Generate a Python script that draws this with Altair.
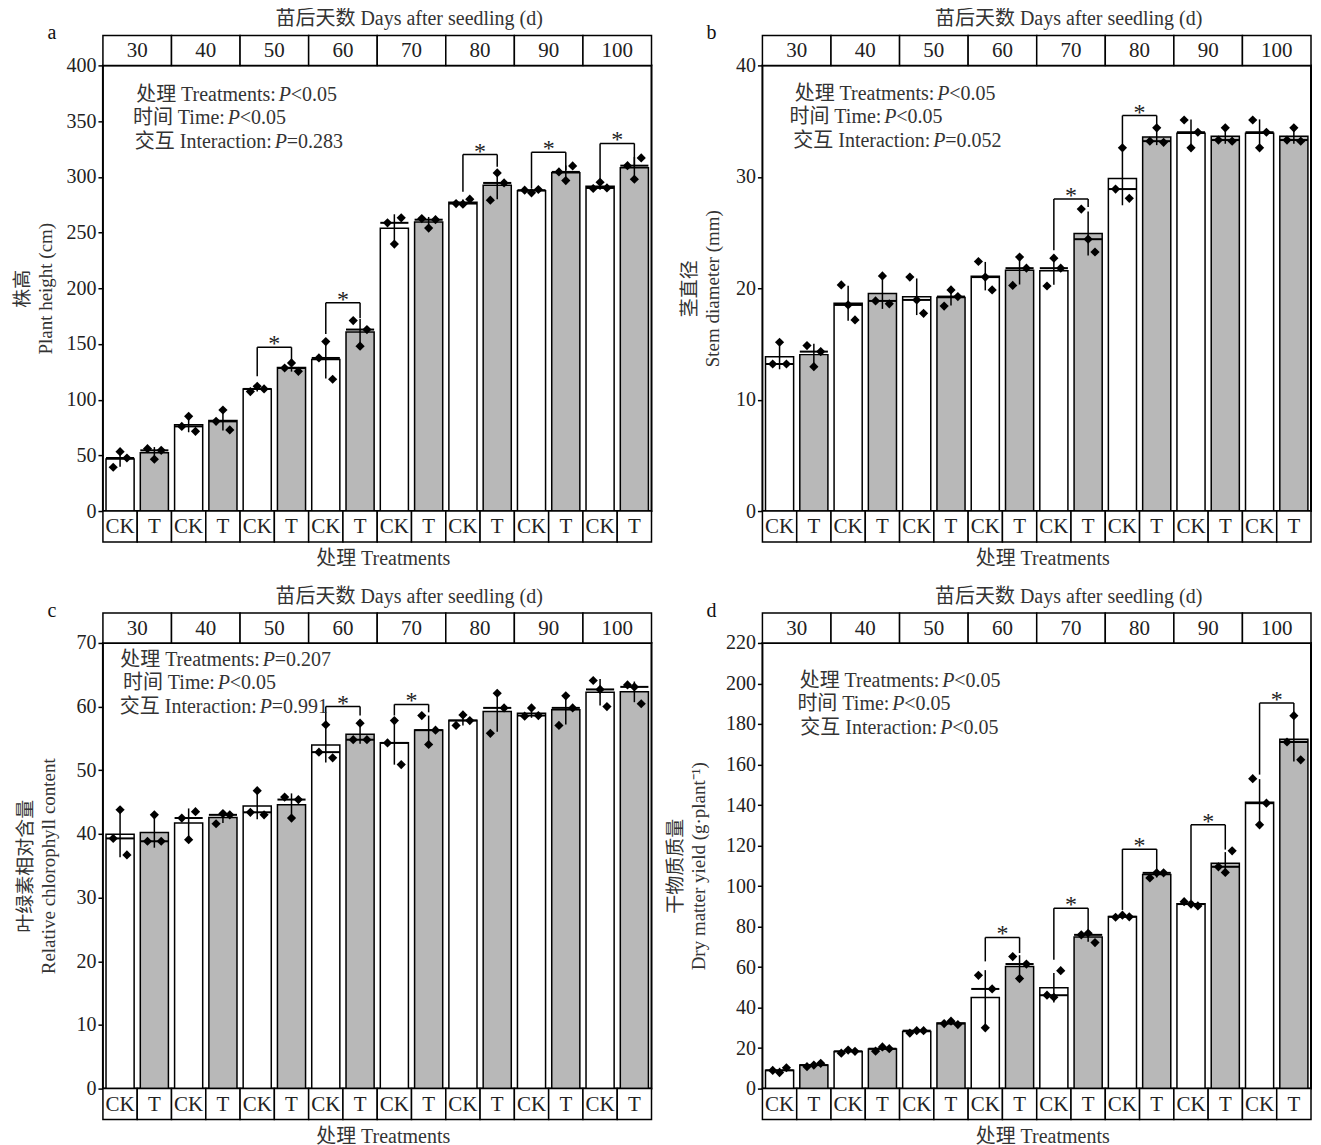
import altair as alt
import pandas as pd

FONT = "Liberation Serif, Noto Sans CJK SC"
DAYS = [30, 40, 50, 60, 70, 80, 90, 100]
TREATMENTS = ["CK", "T"]
PREFIXES = ["处理 Treatments:", "时间 Time:", "交互 Interaction:"]
TOP_TITLE = "苗后天数 Days after seedling (d)"
X_TITLE = "处理 Treatments"

# ---- panel a: plant height (cm) ----
A_CK = [[39.3, 53.3, 47.6], [76.0, 85.0, 71.6], [107.2, 112.0, 109.6], [137.4, 152.1, 118.3],
        [258.7, 239.6, 263.2], [276.0, 275.4, 279.9], [288.0, 285.6, 288.6], [289.5, 295.1, 290.0]]
A_T = [[56.0, 46.5, 54.5], [80.5, 90.7, 72.8], [128.4, 132.9, 125.4], [171.0, 148.0, 162.9],
       [262.5, 254.0, 261.5], [279.0, 303.5, 294.5], [304.4, 296.6, 309.8], [310.0, 297.8, 316.9]]
A_SIG = [50, 60, 80, 90, 100]
A_TOP = [147, 187, 320, 322, 330]
A_LEG_CK = [121, 159, 286.5, 289.5, 292.5]
A_LEG_T = [131, 173, 309, 306, 309]
A_P = ["<0.05", "<0.05", "=0.283"]

# ---- panel b: stem diameter (mm) ----
B_CK = [[13.2, 15.15, 13.2], [20.3, 18.5, 17.15], [21.0, 18.95, 17.75], [22.4, 21.0, 19.85],
        [20.2, 22.7, 21.8], [28.9, 32.6, 28.07], [35.1, 32.6, 34.0], [35.1, 32.6, 34.0]]
B_T = [[14.85, 12.96, 14.31], [18.86, 21.1, 18.6], [18.4, 19.85, 19.25], [20.25, 22.8, 21.8],
       [27.1, 24.4, 23.25], [33.2, 34.4, 33.1], [33.3, 34.4, 33.2], [33.3, 34.4, 33.2]]
B_SIG = [70, 80]
B_TOP = [28.0, 35.5]
B_LEG_CK = [23.4, 32.8]
B_LEG_T = [27.3, 34.7]
B_P = ["<0.05", "<0.05", "=0.052"]

# ---- panel c: relative chlorophyll content ----
C_CK = [[39.3, 43.8, 36.7], [42.5, 39.1, 43.5], [43.4, 46.8, 43.0], [52.85, 57.15, 51.96],
        [54.3, 57.8, 50.9], [57.05, 58.7, 57.8], [58.5, 59.8, 58.6], [64.1, 62.7, 60.0]]
C_T = [[38.85, 43.0, 38.85], [41.6, 43.2, 43.0], [45.8, 42.5, 45.4], [54.8, 57.4, 54.8],
       [58.6, 54.05, 56.3], [55.8, 62.1, 59.8], [57.05, 61.7, 59.8], [63.4, 63.1, 60.45]]
C_SIG = [60, 70]
C_TOP = [60.0, 60.35]
C_LEG_CK = [57.6, 58.6]
C_LEG_T = [58.6, 59.1]
C_P = ["=0.207", "<0.05", "=0.991"]

# ---- panel d: dry matter yield ----
D_CK = [[9.0, 7.9, 10.3], [17.5, 19.0, 18.4], [27.4, 28.6, 28.6], [55.9, 30.0, 49.2],
        [46.1, 45.1, 58.2], [84.6, 85.6, 84.8], [92.3, 91.1, 90.2], [153.0, 130.2, 140.9]]
D_T = [[10.8, 11.6, 12.5], [18.5, 20.6, 19.7], [32.1, 33.3, 31.6], [65.2, 54.3, 61.5],
       [75.9, 76.7, 72.1], [104.0, 106.5, 106.5], [109.5, 106.7, 117.4], [171.1, 184.1, 162.3]]
D_SIG = [60, 70, 80, 90, 100]
D_TOP = [74.6, 89.0, 118.2, 130.2, 190.3]
D_LEG_CK = [62.8, 63.6, 88.2, 93.0, 155.0]
D_LEG_T = [66.9, 76.7, 108.0, 118.0, 185.4]
D_P = ["<0.05", "<0.05", "<0.05"]

W, H = 549, 446


def text_layer(label, x, y, size=20, align="center", style="normal", color="#222", baseline="middle"):
    return alt.Chart(pd.DataFrame({"t": [label]})).mark_text(
        font=FONT, fontSize=size, align=align, baseline=baseline, fontStyle=style, color=color
    ).encode(text="t:N", x=alt.value(x), y=alt.value(y))


def panel(ck, t, ymax, ystep, ytitle, letter, pvals, p_x, ann_y, sig, top, leg_ck, leg_t, tpad):
    rows = []
    for d in range(len(DAYS)):
        for k, trt in enumerate(TREATMENTS):
            vals = ck[d] if k == 0 else t[d]
            for r, v in enumerate(vals):
                rows.append({"idx": 2 * d + k, "trt": trt, "rep": r, "value": v})
    pts = pd.DataFrame(rows)
    xs = alt.Scale(domain=[0, 16], nice=False, zero=False)
    ys = alt.Scale(domain=[0, ymax], nice=False)
    yaxis = alt.Axis(
        values=list(range(0, ymax + 1, ystep)), tickSize=5, tickWidth=1.5, tickColor="black",
        labelFont=FONT, labelFontSize=20, labelColor="#222", labelPadding=2, domain=False, grid=False,
        title=ytitle, titleFont=FONT, titleFontSize=19, titleFontWeight="normal", titleColor="#333",
        titleLineHeight=23, titlePadding=tpad,
    )

    def Y(field):
        return alt.Y(field, scale=ys, axis=yaxis)

    def X(field):
        return alt.X(field, scale=xs, axis=None)

    base = alt.Chart(pts)
    stats = base.transform_aggregate(
        mean="mean(value)", sd="stdev(value)", med="median(value)", groupby=["idx", "trt"]
    ).transform_calculate(
        x0="datum.idx + 0.09", x1="datum.idx + 0.91", xc="datum.idx + 0.5",
        lo="datum.mean - datum.sd", hi="datum.mean + datum.sd",
    )
    bars = stats.mark_rect(stroke="black", strokeWidth=1.5).encode(
        x=X("x0:Q"), x2="x1:Q", y=Y("mean:Q"), y2=alt.datum(0),
        fill=alt.Fill("trt:N", scale=alt.Scale(domain=TREATMENTS, range=["#ffffff", "#b8b8b8"]), legend=None),
    )
    err = stats.mark_rule(color="black", strokeWidth=1.5).encode(x=X("xc:Q"), y=Y("lo:Q"), y2="hi:Q")
    cross = stats.mark_rule(color="black", strokeWidth=2).encode(x=X("x0:Q"), x2="x1:Q", y=Y("med:Q"))
    dots = base.transform_calculate(xp="datum.idx + 0.5 + (datum.rep - 1) * 0.2").mark_point(
        shape="diamond", filled=True, color="black", size=85, opacity=1
    ).encode(x=X("xp:Q"), y=Y("value:Q"))

    sdf = pd.DataFrame({"i": [DAYS.index(s) for s in sig], "top": top, "lck": leg_ck, "lt": leg_t})
    sb = alt.Chart(sdf).transform_calculate(
        xl="2 * datum.i + 0.5", xr="2 * datum.i + 1.5", xm="2 * datum.i + 1"
    )
    br_h = sb.mark_rule(color="black", strokeWidth=1.5).encode(x=X("xl:Q"), x2="xr:Q", y=Y("top:Q"))
    br_l = sb.mark_rule(color="black", strokeWidth=1.5).encode(x=X("xl:Q"), y=Y("lck:Q"), y2="top:Q")
    br_r = sb.mark_rule(color="black", strokeWidth=1.5).encode(x=X("xr:Q"), y=Y("lt:Q"), y2="top:Q")
    star = sb.mark_text(text="*", font=FONT, fontSize=24, baseline="alphabetic", color="#222", dy=4).encode(
        x=X("xm:Q"), y=Y("top:Q"))

    ddf = pd.DataFrame({"d": list(range(len(DAYS))), "day": [str(v) for v in DAYS]})
    sd = alt.Chart(ddf).transform_calculate(a="2 * datum.d", b="2 * datum.d + 2", m="2 * datum.d + 1")
    top_box = sd.mark_rect(fill="white", stroke="black", strokeWidth=1.5).encode(
        x=X("a:Q"), x2="b:Q", y=alt.value(-30), y2=alt.value(0))
    top_txt = sd.mark_text(font=FONT, fontSize=21, color="#222", baseline="middle").encode(
        x=X("m:Q"), y=alt.value(-14), text="day:N")

    tdf = pd.DataFrame({"i": list(range(16)), "lab": TREATMENTS * 8})
    st = alt.Chart(tdf).transform_calculate(a="datum.i", b="datum.i + 1", m="datum.i + 0.5")
    bot_box = st.mark_rect(fill="white", stroke="black", strokeWidth=1.5).encode(
        x=X("a:Q"), x2="b:Q", y=alt.value(H), y2=alt.value(H + 31))
    bot_txt = st.mark_text(font=FONT, fontSize=21, color="#222", baseline="middle").encode(
        x=X("m:Q"), y=alt.value(H + 16), text="lab:N")

    extras = [
        text_layer(TOP_TITLE, W / 2 + 32, -46, size=20, color="#333"),
        text_layer(X_TITLE, W / 2 + 6, H + 48, size=20, color="#333"),
        text_layer(letter, -51, -32, size=20, color="#111"),
    ]
    for k in range(3):
        extras.append(text_layer(PREFIXES[k], p_x[k] - 3, ann_y[k], align="right", color="#333"))
        extras.append(text_layer("P", p_x[k], ann_y[k], align="left", style="italic", color="#333"))
        extras.append(text_layer(pvals[k], p_x[k] + 12, ann_y[k], align="left", color="#333"))

    return alt.layer(
        bars, err, cross, dots, br_h, br_l, br_r, star, top_box, top_txt, bot_box, bot_txt, *extras
    ).properties(width=W, height=H)


pa = panel(A_CK, A_T, 400, 50, ["株高", "Plant height (cm)"], "a", A_P,
           [176, 125, 172], [30, 53, 77], A_SIG, A_TOP, A_LEG_CK, A_LEG_T, 10)
pb = panel(B_CK, B_T, 40, 10, ["茎直径", "Stem diameter (mm)"], "b", B_P,
           [175, 122, 171], [29, 52, 76], B_SIG, B_TOP, B_LEG_CK, B_LEG_T, 13)
pc = panel(C_CK, C_T, 70, 10, ["叶绿素相对含量", "Relative chlorophyll content"], "c", C_P,
           [160, 115, 157], [17, 40, 64], C_SIG, C_TOP, C_LEG_CK, C_LEG_T, 17)
pd_ = panel(D_CK, D_T, 220, 20, ["干物质质量", "Dry matter yield (g·plant⁻¹)"], "d", D_P,
            [180, 130, 178], [38, 61, 85], D_SIG, D_TOP, D_LEG_CK, D_LEG_T, 17)

chart = alt.concat(
    pa, pb, pc, pd_, columns=2, spacing={"row": 132, "column": 111}, bounds="flush"
).properties(
    padding={"left": 5, "top": 0, "right": 0, "bottom": 0}
).configure_view(stroke="black", strokeWidth=2)

chart.save("out.html", embed_options={"renderer": "svg", "actions": False})
